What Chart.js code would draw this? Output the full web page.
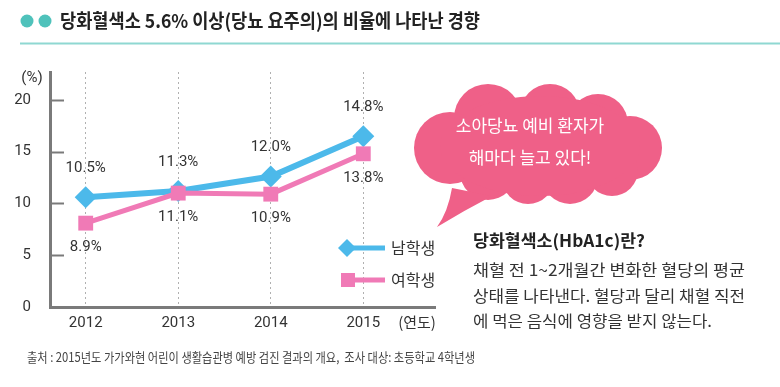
<!DOCTYPE html>
<html>
<head>
<meta charset="utf-8">
<script src="https://cdn.jsdelivr.net/npm/chart.js@4/dist/chart.umd.min.js"></script>
<style>
  html, body { margin: 0; padding: 0; background: #fff; }
</style>
</head>
<body>
<canvas id="myChart" width="780" height="387"></canvas>
<script>
const years = [2012, 2013, 2014, 2015];
const boys = [10.6, 11.2, 12.6, 16.5];
const girls = [8.1, 11.0, 10.9, 14.8];
const boysLabels = ['10.5%', '11.3%', '12.0%', '14.8%'];
const girlsLabels = ['8.9%', '11.1%', '10.9%', '13.8%'];
const yTicks = [0, 5, 10, 15, 20];
const seriesNames = ['남학생', '여학생'];

const titleText = '당화혈색소 5.6% 이상(당뇨 요주의)의 비율에 나타난 경향';
const bubbleLines = ['소아당뇨 예비 환자가', '해마다 늘고 있다!'];
const noteTitle = '당화혈색소(HbA1c)란?';
const noteLines = ['채혈 전 1~2개월간 변화한 혈당의 평균', '상태를 나타낸다. 혈당과 달리 채혈 직전', '에 먹은 음식에 영향을 받지 않는다.'];
const sourceText = '출처 : 2015년도 가가와현 어린이 생활습관병 예방 검진 결과의 개요,  조사 대상: 초등학교 4학년생';

const BLUE = '#4cb9ea';
const PINK = '#f07ab6';
const KR = '"Noto Sans CJK KR", "Noto Sans", sans-serif';
const NUM = 'Roboto, "Noto Sans", sans-serif';

// fit a string into a given width by squeezing horizontally
function fitText(ctx, text, x, y, width) {
  const w = ctx.measureText(text).width;
  ctx.save();
  ctx.translate(x, y);
  ctx.scale(width / w, 1);
  ctx.fillText(text, 0, 0);
  ctx.restore();
}

const extras = {
  id: 'extras',
  afterDatasetsDraw(chart) {
    const ctx = chart.ctx;
    const xs = chart.scales.x;
    const ys = chart.scales.y;
    const area = chart.chartArea;

    // inner ticks on the y axis
    ctx.save();
    ctx.strokeStyle = '#7a7a7a';
    ctx.lineWidth = 2;
    yTicks.slice(1).forEach(v => {
      const y = Math.round(ys.getPixelForValue(v)) + 0.5;
      ctx.beginPath();
      ctx.moveTo(area.left, y);
      ctx.lineTo(area.left + 14, y);
      ctx.stroke();
    });
    ctx.restore();

    // value labels
    ctx.save();
    ctx.font = '15px ' + NUM;
    ctx.fillStyle = '#333';
    ctx.textAlign = 'center';
    ctx.textBaseline = 'middle';
    boys.forEach((v, i) => {
      ctx.fillText(boysLabels[i], xs.getPixelForValue(years[i]), ys.getPixelForValue(v) - 29);
    });
    girls.forEach((v, i) => {
      ctx.fillText(girlsLabels[i], xs.getPixelForValue(years[i]), ys.getPixelForValue(v) + 24);
    });

    // axis units
    ctx.fillText('(%)', 32, 78);
    ctx.font = '15px ' + KR;
    ctx.fillText('(연도)', 417, 322);
    ctx.restore();

    // legend
    ctx.save();
    ctx.lineWidth = 5;
    ctx.strokeStyle = BLUE;
    ctx.beginPath(); ctx.moveTo(350, 248); ctx.lineTo(385, 248); ctx.stroke();
    ctx.fillStyle = BLUE;
    ctx.beginPath();
    ctx.moveTo(338, 248); ctx.lineTo(347, 239); ctx.lineTo(356, 248); ctx.lineTo(347, 257);
    ctx.closePath(); ctx.fill();
    ctx.strokeStyle = PINK;
    ctx.beginPath(); ctx.moveTo(350, 280); ctx.lineTo(385, 280); ctx.stroke();
    ctx.fillStyle = PINK;
    ctx.fillRect(341, 273, 14, 14);
    ctx.fillStyle = '#333';
    ctx.font = '16px ' + KR;
    ctx.textBaseline = 'middle';
    ctx.fillText(seriesNames[0], 391, 248);
    ctx.fillText(seriesNames[1], 391, 280);
    ctx.restore();
  },
  afterDraw(chart) {
    const ctx = chart.ctx;
    ctx.save();

    // title
    ctx.fillStyle = '#4fc2bb';
    [27, 45].forEach(cx => {
      ctx.beginPath(); ctx.arc(cx, 21, 6.5, 0, Math.PI * 2); ctx.fill();
    });
    ctx.strokeStyle = '#8fd8d2';
    ctx.lineWidth = 2;
    ctx.beginPath(); ctx.moveTo(20, 43.5); ctx.lineTo(780, 43.5); ctx.stroke();
    ctx.fillStyle = '#222';
    ctx.font = 'bold 19px ' + KR;
    ctx.textBaseline = 'middle';
    fitText(ctx, titleText, 60, 21, 420);

    // speech bubble
    ctx.fillStyle = '#ef6088';
    const bumps = [
      [450, 148, 36], [488, 118, 34], [550, 114, 30], [598, 124, 30],
      [630, 148, 32], [612, 170, 26], [570, 176, 28], [528, 178, 26], [488, 172, 28]
    ];
    bumps.forEach(b => {
      ctx.beginPath(); ctx.arc(b[0], b[1], b[2], 0, Math.PI * 2); ctx.fill();
    });
    ctx.beginPath(); ctx.ellipse(540, 146, 100, 50, 0, 0, Math.PI * 2); ctx.fill();
    ctx.beginPath();
    ctx.moveTo(452, 188);
    ctx.quadraticCurveTo(448, 212, 437, 227);
    ctx.quadraticCurveTo(465, 210, 492, 196);
    ctx.closePath(); ctx.fill();
    ctx.fillStyle = '#fff';
    ctx.font = '17px ' + KR;
    ctx.textAlign = 'center';
    ctx.fillText(bubbleLines[0], 530, 126);
    ctx.fillText(bubbleLines[1], 530, 158);

    // note text
    ctx.textAlign = 'left';
    ctx.fillStyle = '#222';
    ctx.font = 'bold 17px ' + KR;
    fitText(ctx, noteTitle, 473, 241, 172);
    ctx.fillStyle = '#333';
    ctx.font = '16px ' + KR;
    fitText(ctx, noteLines[0], 473, 270, 272);
    fitText(ctx, noteLines[1], 473, 296, 272);
    fitText(ctx, noteLines[2], 473, 321, 239);

    // source
    ctx.fillStyle = '#444';
    ctx.font = '13px ' + KR;
    fitText(ctx, sourceText, 27, 357, 448);
    ctx.restore();
  }
};

const data = {
  datasets: [
    {
      label: seriesNames[1],
      data: years.map((y, i) => ({ x: y, y: girls[i] })),
      borderColor: PINK,
      backgroundColor: PINK,
      borderWidth: 5,
      pointStyle: 'rect',
      pointRadius: 10.5,
      pointBorderWidth: 0,
      tension: 0,
      order: 0,
    },
    {
      label: seriesNames[0],
      data: years.map((y, i) => ({ x: y, y: boys[i] })),
      borderColor: BLUE,
      backgroundColor: BLUE,
      borderWidth: 6,
      pointStyle: 'rectRot',
      pointRadius: 11,
      pointBorderWidth: 0,
      tension: 0,
      order: 1,
    },
  ],
};

// CONFIG
const config = {
  type: 'line',
  data,
  plugins: [extras],
  options: {
    responsive: false,
    animation: false,
    layout: { padding: { left: 0, top: 72, right: 345, bottom: 0 } },
    plugins: { legend: { display: false }, tooltip: { enabled: false } },
    scales: {
      x: {
        type: 'linear',
        min: 2011.614,
        max: 2015.775,
        afterBuildTicks: s => { s.ticks = years.map(v => ({ value: v })); },
        afterFit: s => { s.height = 80; },
        ticks: { color: '#333', font: { family: NUM, size: 15 }, padding: 7, callback: v => String(v) },
        grid: { color: '#b0b0b0', lineWidth: 1, drawTicks: false },
        border: { display: true, color: '#7a7a7a', width: 3, dash: [2, 3] },
      },
      y: {
        min: 0,
        max: 22.7,
        afterBuildTicks: s => { s.ticks = yTicks.map(v => ({ value: v })); },
        afterFit: s => { s.width = 50; },
        ticks: { color: '#333', font: { family: NUM, size: 15 }, padding: 11 },
        grid: { display: false },
        border: { display: true, color: '#7a7a7a', width: 3 },
      },
    },
  },
};

// RENDER
const myChart = new Chart(document.getElementById('myChart'), config);
</script>
</body>
</html>
